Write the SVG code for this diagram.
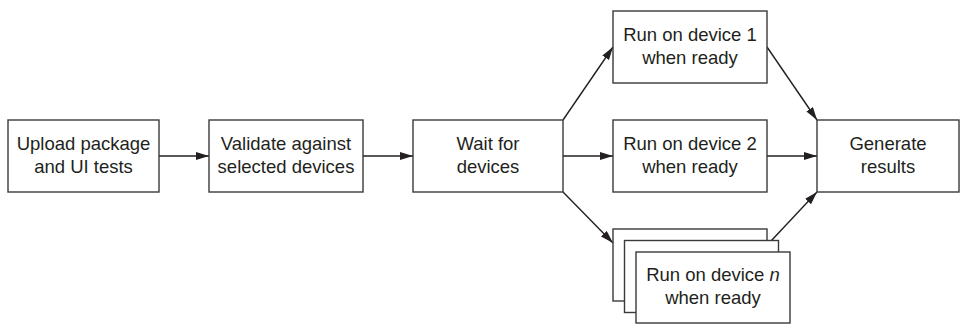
<svg xmlns="http://www.w3.org/2000/svg" width="960" height="324" viewBox="0 0 960 324">
<defs>
<style>
.box{fill:#fff;stroke:#3a3a3a;stroke-width:1.4}
.t{font-family:"Liberation Sans",Arial,sans-serif;font-size:18.5px;fill:#231f20;text-anchor:middle}
.c{stroke:#231f20;stroke-width:1.4;fill:none;marker-end:url(#ah)}
</style>
<marker id="ah" markerUnits="userSpaceOnUse" markerWidth="14" markerHeight="10" refX="13" refY="4" orient="auto">
<path d="M0,0 L13,4 L0,8 z" fill="#231f20"/>
</marker>
</defs>
<rect width="960" height="324" fill="#fff"/>
<g id="connectors">
<line class="c" x1="159" y1="156" x2="209" y2="156"/>
<line class="c" x1="363" y1="156" x2="413" y2="156"/>
<line class="c" x1="563" y1="120" x2="613" y2="47"/>
<line class="c" x1="563" y1="156" x2="613" y2="156"/>
<line class="c" x1="563" y1="192" x2="613" y2="243"/>
<line class="c" x1="767" y1="47" x2="817" y2="120"/>
<line class="c" x1="767" y1="156" x2="817" y2="156"/>
<line class="c" x1="771" y1="241" x2="817" y2="192"/>
</g>
<g id="upload">
<rect class="box" x="8" y="120" width="151" height="72"/>
<text class="t" x="83.5" y="150">Upload package</text>
<text class="t" x="83.5" y="173">and UI tests</text>
</g>
<g id="validate">
<rect class="box" x="209" y="120" width="154" height="72"/>
<text class="t" x="286" y="150">Validate against</text>
<text class="t" x="286" y="173">selected devices</text>
</g>
<g id="wait">
<rect class="box" x="413" y="120" width="150" height="72"/>
<text class="t" x="488" y="150">Wait for</text>
<text class="t" x="488" y="173">devices</text>
</g>
<g id="run1">
<rect class="box" x="613" y="11" width="154" height="72"/>
<text class="t" x="690" y="41">Run on device 1</text>
<text class="t" x="690" y="64">when ready</text>
</g>
<g id="run2">
<rect class="box" x="613" y="120" width="154" height="72"/>
<text class="t" x="690" y="150">Run on device 2</text>
<text class="t" x="690" y="173">when ready</text>
</g>
<g id="runn">
<rect class="box" x="613" y="229" width="154" height="72"/>
<rect class="box" x="624.5" y="240.5" width="154" height="72"/>
<rect class="box" x="636" y="252" width="154" height="71"/>
<text class="t" x="713" y="281">Run on device <tspan font-style="italic">n</tspan></text>
<text class="t" x="713" y="304">when ready</text>
</g>
<g id="generate">
<rect class="box" x="817" y="120" width="142" height="72"/>
<text class="t" x="888" y="150">Generate</text>
<text class="t" x="888" y="173">results</text>
</g>
</svg>
